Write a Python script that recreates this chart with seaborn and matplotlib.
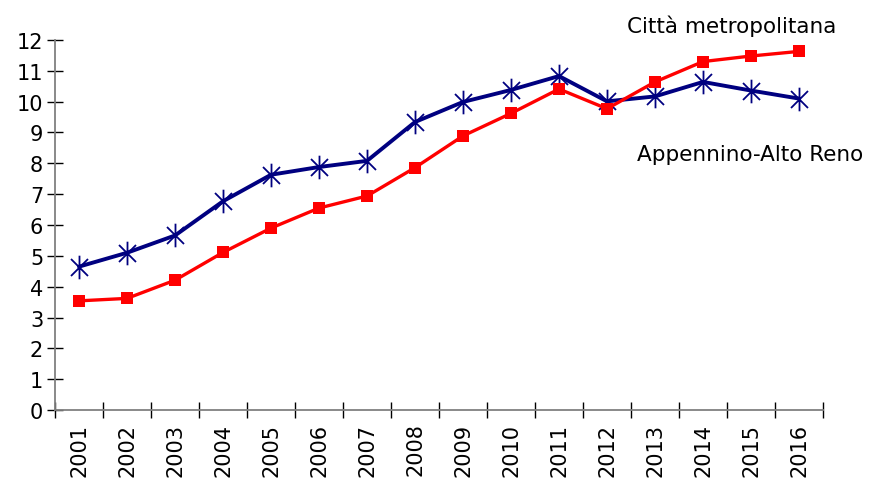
import numpy as np
import pandas as pd
import matplotlib
matplotlib.use('Agg')
import matplotlib.pyplot as plt
from matplotlib.path import Path
import seaborn as sns

years = list(range(2001, 2017))
citta = [3.54, 3.62, 4.21, 5.11, 5.9, 6.55, 6.94, 7.86, 8.89, 9.62, 10.41, 9.77, 10.64, 11.3, 11.48, 11.63]
appennino = [4.65, 5.1, 5.66, 6.77, 7.63, 7.88, 8.08, 9.34, 9.99, 10.38, 10.83, 10.01, 10.17, 10.64, 10.36, 10.1]

sns.set_style('white')
plt.rcParams['font.family'] = ['DejaVu Sans']
plt.rcParams['text.color'] = 'black'
plt.rcParams['xtick.color'] = 'black'
plt.rcParams['ytick.color'] = 'black'

# excel-style star: X plus a vertical bar
star = Path([(0, 1), (0, -1), (-0.72, 0.72), (0.72, -0.72), (-0.72, -0.72), (0.72, 0.72)],
            [Path.MOVETO, Path.LINETO] * 3)

fig = plt.figure(figsize=(8.76, 4.81), dpi=100)
ax = fig.add_axes([0.0628, 0.1455, 0.8767, 0.7693])

df = pd.DataFrame({'year': years, 'citta': citta, 'appennino': appennino})
sns.lineplot(data=df, x='year', y='appennino', ax=ax, color='#000080', lw=2.8,
             marker=star, markersize=17, markeredgewidth=1.3,
             markeredgecolor='#000080', zorder=3)
sns.lineplot(data=df, x='year', y='citta', ax=ax, color='#ff0000', lw=2.4,
             marker='s', markersize=9, markeredgewidth=0, zorder=4)

ax.set_xlim(years[0] - 0.5, years[-1] + 0.5)
ax.set_ylim(0, 12)
ax.set_yticks(range(0, 13))
ax.set_xticks(np.arange(years[0] - 0.5, years[-1] + 1, 1.0))
ax.set_xticklabels([])
ax.set_xticks(years, minor=True)
ax.set_xticklabels([str(y) for y in years], minor=True, rotation=90, fontsize=15)
ax.tick_params(axis='x', which='minor', bottom=True, length=0, pad=9)
ax.tick_params(axis='x', which='major', bottom=True, direction='inout', length=11, width=1)
ax.tick_params(axis='y', left=True, direction='inout', length=11, width=1, labelsize=15, pad=3)
ax.set_xlabel('')
ax.set_ylabel('')

for s in ['top', 'right']:
    ax.spines[s].set_visible(False)
for s in ['left', 'bottom']:
    ax.spines[s].set_color('#808080')
    ax.spines[s].set_linewidth(1.3)

fig.text(0.716, 0.945, 'Città metropolitana', fontsize=15.5, va='center', ha='left')
fig.text(0.727, 0.678, 'Appennino-Alto Reno', fontsize=15.5, va='center', ha='left')

fig.savefig('out.png', dpi=100)
